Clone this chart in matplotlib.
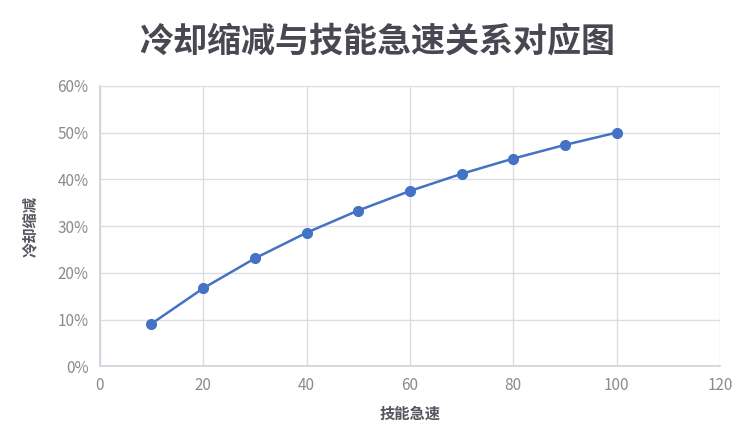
import matplotlib
matplotlib.use("Agg")
import matplotlib.pyplot as plt
from matplotlib.ticker import PercentFormatter

plt.rcParams['font.family'] = ['Noto Sans CJK SC', 'DejaVu Sans']

# Data
haste = [10, 20, 30, 40, 50, 60, 70, 80, 90, 100]
cdr = [9.09, 16.67, 23.08, 28.57, 33.33, 37.5, 41.18, 44.44, 47.37, 50.0]

xticks = [0, 20, 40, 60, 80, 100, 120]
yticks = [0, 10, 20, 30, 40, 50, 60]

fig = plt.figure(figsize=(7.5, 4.45), dpi=100)
ax = fig.add_axes([0.133, 0.177, 0.827, 0.63])

ax.plot(haste, cdr, color="#4472C4", linewidth=1.8, marker="o",
        markersize=7, zorder=3)

ax.set_xlim(0, 120)
ax.set_ylim(0, 60)
ax.set_xticks(xticks)
ax.set_yticks(yticks)
ax.yaxis.set_major_formatter(PercentFormatter(decimals=0))

ax.grid(True, color="#dcdde3", linewidth=1)
ax.set_axisbelow(True)
for side in ["top", "right"]:
    ax.spines[side].set_visible(False)
for side in ["left", "bottom"]:
    ax.spines[side].set_color("#cfd2dc")
    ax.spines[side].set_linewidth(1.2)
ax.tick_params(length=0, pad=8, labelsize=11, colors="#8a8a90")

ax.set_xlabel("技能急速", fontsize=11, fontweight="bold", color="#55565f", labelpad=8)
ax.set_ylabel("冷却缩减", fontsize=11, fontweight="bold", color="#55565f", labelpad=14)

fig.suptitle("冷却缩减与技能急速关系对应图", x=0.503, y=0.948, fontsize=24.5,
             fontweight="semibold", color="#474852")

fig.savefig("out.png", dpi=100, facecolor="white")
